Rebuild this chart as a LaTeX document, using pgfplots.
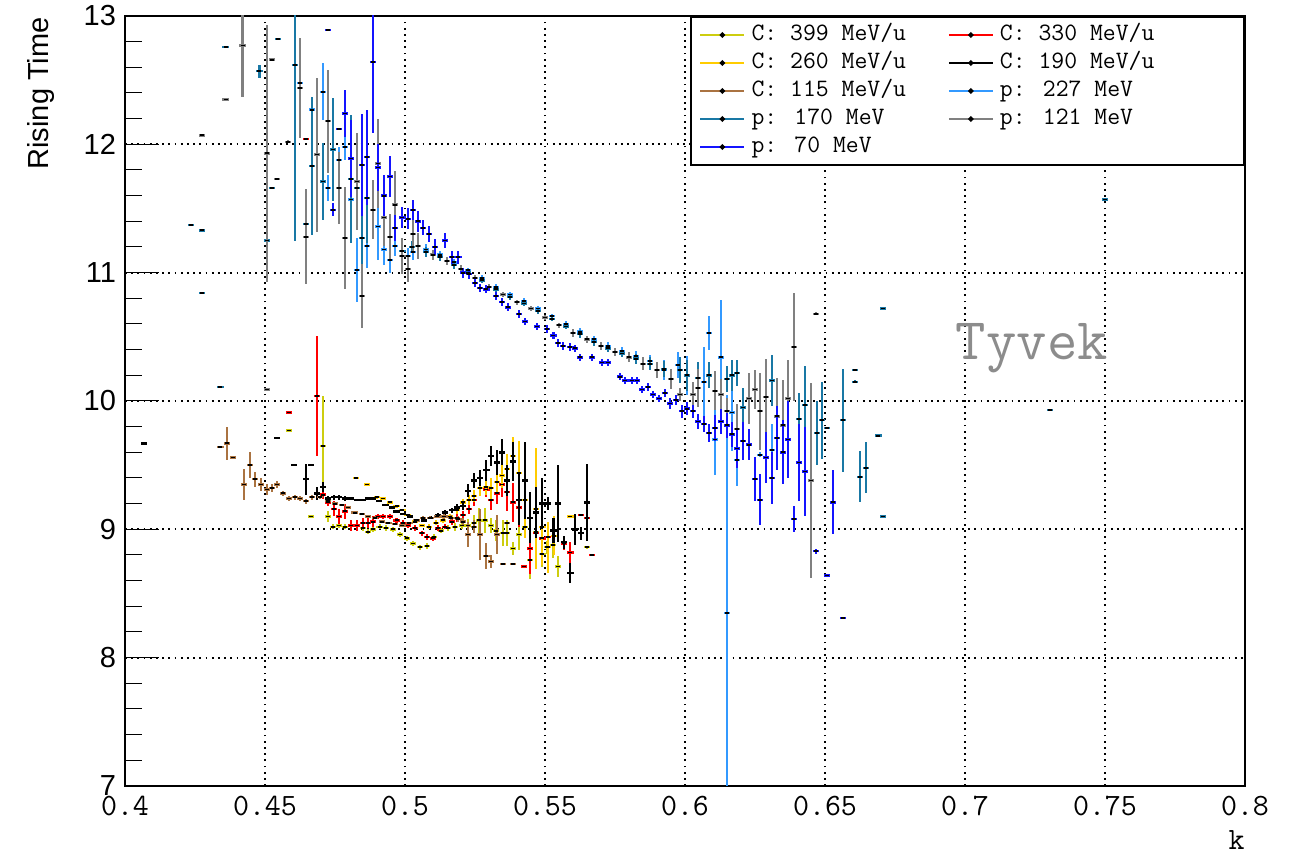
\documentclass[border=0pt]{standalone}
\usepackage{pgfplots}
\pgfplotsset{compat=1.18}
\usepackage{fontspec}
\setmainfont{Liberation Sans}
\newcommand\cour{\ttfamily}
\definecolor{c399}{RGB}{205,205,15}
\definecolor{c330}{RGB}{255,0,0}
\definecolor{c260}{RGB}{255,204,0}
\definecolor{c190}{RGB}{0,0,0}
\definecolor{c115}{RGB}{170,115,65}
\definecolor{p227}{RGB}{51,153,255}
\definecolor{p170}{RGB}{25,120,165}
\definecolor{p121}{RGB}{128,128,128}
\definecolor{p70}{RGB}{20,20,255}
\pgfplotsset{
 ser/.style={forget plot, only marks, color=#1, mark=-, mark size=1pt,
   mark options={black, line width=0.9pt},
   error bars/.cd, x dir=both, x fixed=0.0012, y dir=both, y explicit,
   error mark=none, error bar style={line width=1.2pt, color=#1}},
 legimg/.style={legend image code/.code={\draw[#1, line width=1.2pt] (0pt,0pt) -- (22pt,0pt); \fill[black] (11pt,0pt) circle (0.8pt);}}
}
\begin{document}
\begin{tikzpicture}
\useasboundingbox (-62.5pt,-34.5pt) rectangle (586.5pt,393pt);
\begin{axis}[
 at={(0,0)}, anchor=south west,
 scale only axis, width=560pt, height=385pt,
 xmin=0.4, xmax=0.8, ymin=7, ymax=13,
 xtick={0.4,0.45,0.5,0.55,0.6,0.65,0.7,0.75,0.8},
 ytick={7,8,9,10,11,12,13},
 minor y tick num=4,
 tick pos=left, tick align=inside,
 major tick length=17pt, minor tick length=8.5pt,
 tick style={line width=0.5pt, black},
 xtick style={draw=none},
 axis line style={line width=1pt},
 xmajorgrids, ymajorgrids,
 grid style={black, line width=0.9pt, dash pattern=on 0.9pt off 2.2pt},
 /pgf/number format/assume math mode=true,
 xticklabel={\pgfmathprintnumber[fixed,precision=2]{\tick}},
 xticklabel style={font=\cour\fontsize{15.5}{16}\selectfont, yshift=-3pt, inner ysep=2pt},
 yticklabel style={font=\fontsize{14.5}{15}\selectfont, xshift=-1pt},
 legend columns=2, legend cell align=left,
 legend style={at={(rel axis cs:1,1)}, anchor=north east, draw=black, line width=1pt,
   fill=white, font=\cour\fontsize{12.5}{13}\selectfont, inner xsep=4pt, inner ysep=2pt,
   row sep=0pt, nodes={inner ysep=1.5pt, inner xsep=3pt, text height=8.5pt, text depth=2.5pt}},
]
\addlegendimage{legimg=c399}\addlegendentry{\makebox[95pt][l]{C: 399 MeV/u}}
\addlegendimage{legimg=c330}\addlegendentry{\makebox[115pt][l]{C: 330 MeV/u}}
\addlegendimage{legimg=c260}\addlegendentry{\makebox[95pt][l]{C: 260 MeV/u}}
\addlegendimage{legimg=c190}\addlegendentry{\makebox[115pt][l]{C: 190 MeV/u}}
\addlegendimage{legimg=c115}\addlegendentry{\makebox[95pt][l]{C: 115 MeV/u}}
\addlegendimage{legimg=p227}\addlegendentry{\makebox[115pt][l]{p: 227 MeV}}
\addlegendimage{legimg=p170}\addlegendentry{\makebox[95pt][l]{p: 170 MeV}}
\addlegendimage{legimg=p121}\addlegendentry{\makebox[115pt][l]{p: 121 MeV}}
\addlegendimage{legimg=p70}\addlegendentry{\makebox[95pt][l]{p: 70 MeV}}

% C 399
\addplot[ser=c399] table[y error=ey, row sep=\\] {x y ey\\
0.4586 9.77 0.01\\ 0.4664 9.10 0.01\\ 0.4707 9.65 0.39\\ 0.4725 9.10 0.04\\ 0.4743 9.02 0.02\\
0.4764 9.03 0.02\\ 0.4786 9.02 0.02\\ 0.4807 9.03 0.02\\ 0.4829 9.03 0.02\\ 0.4850 9.01 0.02\\
0.4868 8.98 0.02\\ 0.4886 9.00 0.02\\ 0.4910 9.02 0.02\\ 0.4932 9.01 0.02\\ 0.4957 9.00 0.02\\
0.4982 8.96 0.02\\ 0.5007 8.93 0.02\\ 0.5029 8.89 0.02\\ 0.5054 8.86 0.02\\ 0.5079 8.87 0.02\\
0.5104 8.94 0.02\\ 0.5129 8.99 0.02\\ 0.5154 9.01 0.02\\ 0.5179 9.02 0.03\\ 0.5204 9.03 0.03\\
0.5225 9.03 0.05\\ 0.5246 9.05 0.06\\ 0.5264 9.07 0.10\\ 0.5286 9.07 0.10\\ 0.5307 9.03 0.06\\
0.5325 8.99 0.08\\ 0.5350 8.97 0.10\\ 0.5364 8.97 0.10\\ 0.5386 8.85 0.05\\ 0.5407 8.96 0.12\\
0.5429 9.02 0.02\\ 0.5446 8.76 0.15\\ 0.5468 8.98 0.10\\ 0.5490 8.81 0.10\\ 0.5507 8.86 0.05\\
0.5529 8.88 0.10\\ 0.5546 8.71 0.08\\ 0.5650 8.86 0.01\\
};
% C 330
\addplot[ser=c330] table[y error=ey, row sep=\\] {x y ey\\
0.4586 9.91 0.01\\ 0.4646 12.04 0.01\\ 0.4686 10.04 0.47\\ 0.4707 9.27 0.03\\ 0.4725 9.21 0.03\\
0.4746 9.16 0.06\\ 0.4764 9.10 0.06\\ 0.4786 9.14 0.06\\ 0.4807 9.03 0.04\\ 0.4829 9.03 0.04\\
0.4850 9.05 0.04\\ 0.4868 9.05 0.04\\ 0.4886 9.06 0.04\\ 0.4904 9.10 0.02\\ 0.4921 9.10 0.02\\
0.4946 9.10 0.02\\ 0.4970 9.07 0.02\\ 0.4993 9.05 0.02\\ 0.5010 9.03 0.02\\ 0.5036 9.01 0.02\\
0.5061 8.97 0.02\\ 0.5079 8.94 0.02\\ 0.5100 8.93 0.02\\ 0.5118 9.01 0.02\\ 0.5143 9.02 0.02\\
0.5168 9.06 0.03\\ 0.5186 9.09 0.03\\ 0.5207 9.11 0.03\\ 0.5229 9.16 0.04\\ 0.5246 9.23 0.05\\
0.5268 9.32 0.06\\ 0.5290 9.31 0.06\\ 0.5307 9.23 0.08\\ 0.5329 9.28 0.08\\ 0.5346 9.35 0.10\\
0.5364 9.29 0.15\\ 0.5386 9.21 0.15\\ 0.5407 9.17 0.15\\ 0.5425 8.71 0.01\\ 0.5446 8.85 0.20\\
0.5468 8.97 0.25\\ 0.5490 8.93 0.10\\ 0.5511 8.94 0.10\\ 0.5568 8.89 0.05\\ 0.5590 8.82 0.08\\
0.5629 9.11 0.01\\ 0.5650 9.09 0.01\\ 0.5668 8.80 0.01\\
};
% C 260
\addplot[ser=c260] table[y error=ey, row sep=\\] {x y ey\\
0.4825 9.40 0.01\\ 0.4864 9.35 0.01\\ 0.4900 9.25 0.01\\ 0.4921 9.24 0.01\\ 0.4946 9.21 0.01\\
0.4970 9.18 0.01\\ 0.4990 9.15 0.01\\ 0.5010 9.11 0.01\\ 0.5036 9.06 0.01\\ 0.5061 9.03 0.01\\
0.5086 9.02 0.02\\ 0.5111 9.05 0.02\\ 0.5136 9.07 0.02\\ 0.5161 9.10 0.02\\ 0.5186 9.15 0.03\\
0.5207 9.21 0.03\\ 0.5229 9.23 0.04\\ 0.5246 9.26 0.05\\ 0.5268 9.32 0.06\\ 0.5290 9.33 0.06\\
0.5307 9.32 0.08\\ 0.5329 9.37 0.08\\ 0.5346 9.42 0.10\\ 0.5364 9.47 0.12\\ 0.5386 9.57 0.15\\
0.5407 9.44 0.25\\ 0.5429 9.23 0.30\\ 0.5468 9.16 0.47\\ 0.5490 9.02 0.30\\ 0.5511 8.86 0.20\\
0.5533 8.95 0.15\\ 0.5590 9.10 0.01\\
};
% C 190
\addplot[ser=c190] table[y error=ey, row sep=\\] {x y ey\\
0.4068 9.67 0.01\\ 0.4543 9.71 0.01\\ 0.4604 9.50 0.01\\ 0.4646 9.39 0.12\\ 0.4664 9.50 0.01\\
0.4686 9.28 0.05\\ 0.4707 9.33 0.04\\ 0.4725 9.24 0.02\\ 0.4746 9.25 0.02\\ 0.4764 9.25 0.02\\
0.4786 9.24 0.02\\ 0.4807 9.24 0.01\\ 0.4829 9.23 0.01\\ 0.4850 9.23 0.01\\ 0.4868 9.24 0.01\\
0.4886 9.24 0.01\\ 0.4907 9.22 0.01\\ 0.4930 9.19 0.01\\ 0.4954 9.17 0.01\\ 0.4970 9.14 0.01\\
0.4993 9.12 0.01\\ 0.5018 9.10 0.01\\ 0.5043 9.07 0.01\\ 0.5068 9.07 0.01\\ 0.5093 9.09 0.01\\
0.5118 9.11 0.02\\ 0.5143 9.13 0.02\\ 0.5168 9.15 0.02\\ 0.5186 9.17 0.03\\ 0.5207 9.18 0.03\\
0.5225 9.30 0.05\\ 0.5246 9.38 0.06\\ 0.5268 9.40 0.06\\ 0.5290 9.46 0.08\\ 0.5307 9.57 0.08\\
0.5329 9.52 0.10\\ 0.5346 9.60 0.10\\ 0.5364 9.38 0.12\\ 0.5386 9.53 0.15\\ 0.5407 9.23 0.20\\
0.5429 9.38 0.30\\ 0.5446 9.09 0.20\\ 0.5468 9.13 0.20\\ 0.5490 9.20 0.20\\ 0.5511 9.20 0.05\\
0.5530 8.99 0.10\\ 0.5546 9.20 0.30\\ 0.5568 8.90 0.05\\ 0.5590 8.66 0.08\\ 0.5607 9.00 0.12\\
0.5629 8.97 0.05\\ 0.5650 9.21 0.30\\
};
% C 115
\addplot[ser=c115] table[y error=ey, row sep=\\] {x y ey\\
0.4341 9.64 0.01\\ 0.4364 9.67 0.13\\ 0.4386 9.56 0.01\\ 0.4425 9.35 0.12\\ 0.4446 9.50 0.10\\
0.4464 9.39 0.06\\ 0.4486 9.35 0.05\\ 0.4507 9.31 0.04\\ 0.4525 9.32 0.03\\ 0.4543 9.35 0.03\\
0.4564 9.28 0.02\\ 0.4586 9.24 0.02\\ 0.4607 9.25 0.02\\ 0.4625 9.24 0.02\\ 0.4646 9.22 0.02\\
0.4668 9.25 0.02\\ 0.4696 9.25 0.01\\ 0.4725 9.22 0.01\\ 0.4750 9.20 0.01\\ 0.4775 9.19 0.01\\
0.4796 9.17 0.01\\ 0.4820 9.13 0.01\\ 0.4846 9.12 0.01\\ 0.4868 9.10 0.01\\ 0.4893 9.09 0.01\\
0.4918 9.06 0.01\\ 0.4940 9.05 0.01\\ 0.4964 9.04 0.01\\ 0.4990 9.03 0.01\\ 0.5015 9.05 0.01\\
0.5040 9.07 0.01\\ 0.5064 9.09 0.01\\ 0.5090 9.09 0.01\\ 0.5115 9.10 0.01\\ 0.5140 9.10 0.02\\
0.5165 9.09 0.02\\ 0.5190 9.08 0.02\\ 0.5207 9.06 0.03\\ 0.5225 8.96 0.10\\ 0.5246 9.02 0.05\\
0.5268 8.96 0.20\\ 0.5290 8.79 0.10\\ 0.5307 8.75 0.05\\ 0.5329 8.96 0.15\\ 0.5350 8.73 0.01\\
0.5364 9.05 0.01\\ 0.5386 8.73 0.01\\
};
% p 227
\addplot[ser=p227] table[y error=ey, row sep=\\] {x y ey\\
0.4625 12.48 0.02\\ 0.4668 12.27 0.06\\ 0.4707 12.41 0.22\\ 0.4725 11.66 0.10\\ 0.4764 11.88 0.10\\
0.4786 11.98 0.10\\ 0.4807 11.57 0.20\\ 0.4829 11.02 0.25\\ 0.4864 11.21 0.17\\ 0.4904 11.36 0.26\\
0.4925 11.18 0.12\\ 0.4946 11.10 0.10\\ 0.4964 11.21 0.08\\ 0.5011 11.13 0.06\\ 0.5029 11.16 0.06\\
0.5075 11.18 0.04\\ 0.5125 11.14 0.03\\ 0.5175 11.08 0.03\\ 0.5225 11.02 0.02\\ 0.5275 10.96 0.02\\
0.5325 10.89 0.02\\ 0.5375 10.83 0.02\\ 0.5425 10.78 0.02\\ 0.5475 10.72 0.02\\ 0.5525 10.66 0.02\\
0.5575 10.60 0.02\\ 0.5625 10.54 0.03\\ 0.5675 10.48 0.03\\ 0.5725 10.43 0.03\\ 0.5775 10.39 0.03\\
0.5825 10.35 0.04\\ 0.5875 10.31 0.05\\ 0.5925 10.24 0.08\\ 0.5975 10.28 0.10\\
0.6007 10.20 0.15\\ 0.6068 10.15 0.27\\ 0.6086 10.53 0.13\\ 0.6107 9.70 0.28\\ 0.6129 10.34 0.45\\
0.6150 8.35 1.70\\ 0.6168 9.91 0.30\\ 0.6186 9.54 0.20\\ 0.6268 9.58 0.02\\ 0.6311 9.62 0.20\\
};
% p 170
\addplot[ser=p170] table[y error=ey, row sep=\\] {x y ey\\
0.4236 11.37 0.01\\ 0.4275 11.33 0.01\\ 0.4275 10.84 0.01\\ 0.4341 10.11 0.01\\ 0.4360 12.76 0.01\\
0.4480 12.57 0.05\\ 0.4507 11.25 0.01\\ 0.4525 11.66 0.01\\ 0.4546 12.82 0.01\\ 0.4607 12.62 1.37\\
0.4646 11.38 0.02\\ 0.4668 11.83 0.54\\ 0.4707 11.71 0.30\\ 0.4743 11.96 0.40\\ 0.4807 11.73 0.50\\
0.4829 11.66 0.30\\ 0.4846 11.27 0.40\\ 0.4864 11.58 0.35\\ 0.4990 11.17 0.10\\ 0.5025 11.20 0.05\\
0.5075 11.16 0.04\\ 0.5125 11.12 0.03\\ 0.5175 11.06 0.03\\ 0.5225 11.00 0.02\\ 0.5275 10.94 0.02\\
0.5325 10.87 0.02\\ 0.5375 10.81 0.02\\ 0.5425 10.76 0.02\\ 0.5475 10.70 0.02\\ 0.5525 10.64 0.02\\
0.5575 10.58 0.02\\ 0.5625 10.52 0.03\\ 0.5675 10.46 0.03\\ 0.5725 10.41 0.03\\ 0.5775 10.37 0.03\\
0.5825 10.33 0.04\\ 0.5875 10.29 0.05\\ 0.5925 10.25 0.06\\ 0.5982 10.24 0.10\\ 0.6007 10.20 0.12\\
0.6046 10.18 0.12\\ 0.6086 10.20 0.10\\ 0.6150 10.17 0.10\\ 0.6168 10.20 0.12\\ 0.6186 10.22 0.10\\
0.6207 9.95 0.15\\ 0.6229 10.02 0.20\\ 0.6311 10.16 0.20\\ 0.6407 9.86 0.20\\ 0.6429 9.97 0.30\\
0.6471 9.75 0.25\\ 0.6489 9.85 0.30\\ 0.6507 9.79 0.01\\ 0.6564 9.85 0.40\\ 0.6607 10.24 0.01\\
0.6607 10.15 0.01\\ 0.6625 9.41 0.20\\ 0.6646 9.48 0.20\\ 0.6690 9.73 0.01\\ 0.6707 10.72 0.01\\
0.6707 9.10 0.01\\ 0.7304 9.93 0.01\\ 0.7500 11.57 0.01\\
};
% p 121
\addplot[ser=p121] table[y error=ey, row sep=\\] {x y ey\\
0.4275 12.07 0.01\\ 0.4360 12.35 0.01\\ 0.4420 12.77 0.40\\ 0.4507 11.93 1.00\\ 0.4507 10.09 0.01\\
0.4525 12.66 0.01\\ 0.4543 11.73 0.01\\ 0.4582 12.02 0.01\\ 0.4625 12.44 0.39\\ 0.4646 11.28 0.37\\
0.4686 11.92 0.60\\ 0.4725 12.18 0.40\\ 0.4764 11.66 0.28\\ 0.4786 11.27 0.40\\ 0.4829 11.71 0.38\\
0.4846 10.82 0.25\\ 0.4886 11.49 0.23\\ 0.4904 11.85 0.35\\ 0.4925 11.43 0.22\\ 0.4946 11.28 0.18\\
0.4964 11.53 0.26\\ 0.4990 11.13 0.14\\ 0.5011 11.03 0.10\\ 0.5029 11.30 0.15\\ 0.5046 11.21 0.10\\
0.5100 11.14 0.04\\ 0.5150 11.09 0.03\\ 0.5200 11.03 0.03\\ 0.5250 10.96 0.02\\ 0.5300 10.89 0.02\\
0.5350 10.83 0.02\\ 0.5400 10.77 0.02\\ 0.5450 10.72 0.02\\ 0.5500 10.65 0.02\\ 0.5550 10.59 0.02\\
0.5600 10.53 0.03\\ 0.5650 10.48 0.03\\ 0.5700 10.43 0.03\\ 0.5750 10.38 0.03\\ 0.5800 10.34 0.04\\
0.5850 10.29 0.05\\ 0.5900 10.24 0.06\\ 0.5950 10.17 0.08\\ 0.5982 10.05 0.05\\ 0.6029 10.05 0.10\\
0.6046 10.10 0.15\\ 0.6107 10.08 0.15\\ 0.6129 10.05 0.12\\ 0.6150 9.92 0.10\\ 0.6186 9.78 0.20\\
0.6229 10.02 0.20\\ 0.6250 10.09 0.15\\ 0.6268 9.92 0.30\\ 0.6289 10.03 0.30\\ 0.6329 9.88 0.30\\
0.6350 9.81 0.35\\ 0.6368 10.02 0.30\\ 0.6389 10.42 0.42\\ 0.6450 9.38 0.76\\ 0.6468 10.68 0.01\\
};
% p 70
\addplot[ser=p70] table[y error=ey, row sep=\\] {x y ey\\
0.4725 12.89 0.01\\ 0.4743 11.49 0.05\\ 0.4764 12.12 0.01\\ 0.4786 12.24 0.18\\ 0.4807 11.89 0.30\\
0.4846 11.84 0.40\\ 0.4864 11.90 0.37\\ 0.4886 12.64 0.55\\ 0.4904 11.82 0.18\\ 0.4925 11.60 0.16\\
0.4946 11.75 0.16\\ 0.4964 11.35 0.10\\ 0.4990 11.43 0.08\\ 0.5011 11.42 0.08\\ 0.5029 11.49 0.08\\
0.5046 11.40 0.08\\ 0.5064 11.35 0.06\\ 0.5086 11.30 0.06\\ 0.5107 11.20 0.06\\ 0.5143 11.25 0.06\\
0.5168 11.12 0.05\\ 0.5190 11.12 0.05\\ 0.5207 11.00 0.04\\ 0.5229 10.99 0.04\\ 0.5250 10.92 0.03\\
0.5268 10.88 0.03\\ 0.5290 10.87 0.03\\ 0.5325 10.82 0.03\\ 0.5346 10.77 0.03\\ 0.5368 10.73 0.03\\
0.5407 10.68 0.03\\ 0.5429 10.62 0.03\\ 0.5471 10.58 0.03\\ 0.5507 10.56 0.03\\ 0.5530 10.51 0.03\\
0.5546 10.45 0.03\\ 0.5564 10.43 0.03\\ 0.5590 10.42 0.03\\ 0.5607 10.41 0.03\\ 0.5625 10.34 0.03\\
0.5668 10.34 0.03\\ 0.5704 10.30 0.03\\ 0.5725 10.30 0.03\\ 0.5768 10.19 0.03\\ 0.5786 10.16 0.03\\
0.5810 10.16 0.03\\ 0.5829 10.16 0.03\\ 0.5846 10.09 0.03\\ 0.5868 10.11 0.03\\ 0.5886 10.05 0.03\\
0.5907 10.02 0.03\\ 0.5929 10.06 0.03\\ 0.5946 9.98 0.04\\ 0.5968 10.01 0.04\\ 0.5989 9.92 0.05\\
0.6007 9.94 0.05\\ 0.6029 9.92 0.05\\ 0.6046 9.84 0.06\\ 0.6068 9.82 0.06\\ 0.6086 9.75 0.07\\
0.6107 9.79 0.10\\ 0.6129 9.84 0.10\\ 0.6150 9.81 0.10\\ 0.6168 9.74 0.10\\ 0.6186 9.63 0.15\\
0.6207 9.69 0.15\\ 0.6229 9.66 0.12\\ 0.6250 9.39 0.17\\ 0.6268 9.23 0.20\\ 0.6289 9.56 0.20\\
0.6311 9.40 0.20\\ 0.6329 9.71 0.25\\ 0.6350 9.60 0.25\\ 0.6368 9.70 0.30\\ 0.6389 9.08 0.10\\
0.6407 9.52 0.30\\ 0.6429 9.45 0.35\\ 0.6468 8.83 0.02\\ 0.6507 8.64 0.01\\ 0.6529 9.21 0.25\\
0.6564 8.31 0.01\\
};
% x-axis ticks
\pgfplotsinvokeforeach{0.41,0.42,0.43,0.44,0.46,0.47,0.48,0.49,0.51,0.52,0.53,0.54,0.56,0.57,0.58,0.59,0.61,0.62,0.63,0.64,0.66,0.67,0.68,0.69,0.71,0.72,0.73,0.74,0.76,0.77,0.78,0.79}{
 \draw[line width=0.5pt] (axis cs:#1,7) -- ++(0,5.5pt);}
\pgfplotsinvokeforeach{0.45,0.5,0.55,0.6,0.65,0.7,0.75}{
 \draw[line width=0.5pt] (axis cs:#1,7) -- ++(0,11pt);}
\node[font=\cour\fontsize{29.5}{30}\selectfont, text=black!45] at (axis cs:0.7239,10.41) {Tyvek};
\end{axis}
\node[rotate=90, anchor=east, inner sep=0pt, font=\fontsize{14.5}{15}\selectfont] at (-42pt,384.5pt) {Rising Time};
\node[anchor=base east, inner sep=0pt, font=\cour\fontsize{15.5}{16}\selectfont] at (560pt,-32pt) {k};
\end{tikzpicture}
\end{document}
